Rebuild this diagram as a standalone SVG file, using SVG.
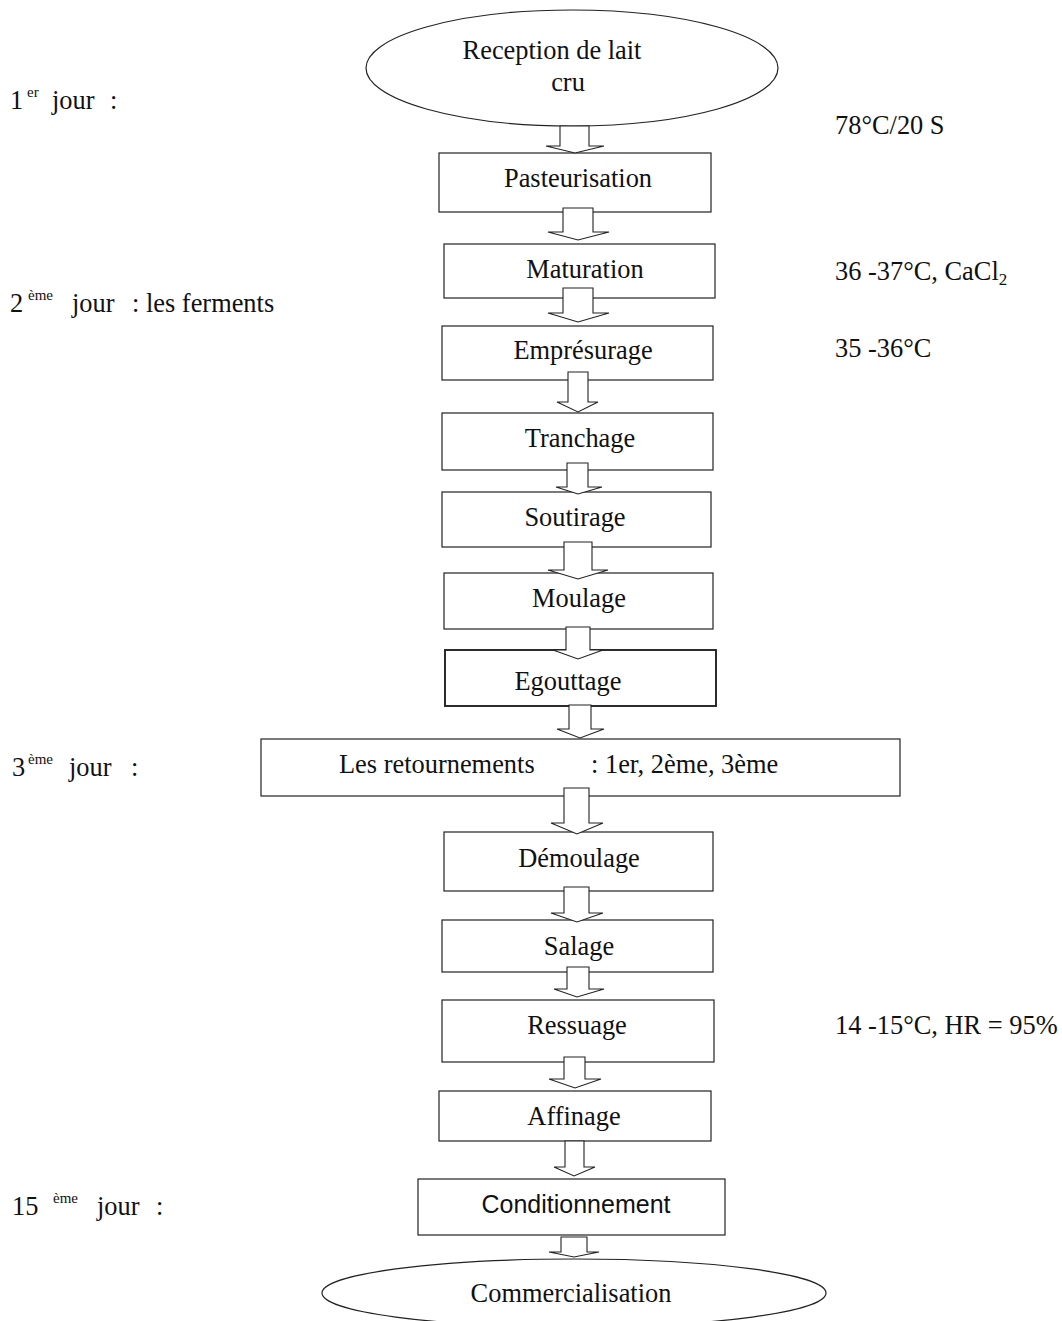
<svg xmlns="http://www.w3.org/2000/svg" width="1062" height="1321" viewBox="0 0 1062 1321">
<style>
.shape{fill:#fff;stroke:#222;stroke-width:1.2}
.thick{stroke-width:1.9}
.arrow{fill:#fff;stroke:#222;stroke-width:1.1;stroke-linejoin:miter}
text{font-family:"Liberation Serif","Times New Roman",serif;font-size:26.4px;fill:#111}
.c{text-anchor:middle}
.sup{font-size:15px}
.sub{font-size:17px}
.sans{font-family:"Liberation Sans",Arial,sans-serif;font-size:25px}
</style>
<rect width="1062" height="1321" fill="#fff"/>

<g id="labels">
  <text x="10" y="109">1<tspan class="sup" x="27" y="97">er</tspan><tspan x="52" y="109">jour</tspan><tspan x="110" y="109">:</tspan></text>
  <text x="10" y="312">2<tspan class="sup" x="28" y="300">ème</tspan><tspan x="72" y="312">jour</tspan><tspan x="132" y="312">: les ferments</tspan></text>
  <text x="12" y="776">3<tspan class="sup" x="28" y="764">ème</tspan><tspan x="69" y="776">jour</tspan><tspan x="131" y="776">:</tspan></text>
  <text x="12" y="1215">15<tspan class="sup" x="53" y="1203">ème</tspan><tspan x="97" y="1215">jour</tspan><tspan x="156" y="1215">:</tspan></text>
  <text x="835" y="134">78°C/20 S</text>
  <text x="835" y="280">36 -37°C, CaCl<tspan class="sub" y="285">2</tspan></text>
  <text x="835" y="357">35 -36°C</text>
  <text x="835" y="1034">14 -15°C, HR = 95%</text>
</g>

<g id="n-reception">
  <ellipse class="shape" cx="572" cy="68" rx="206" ry="58"/>
  <text class="c" x="552" y="59">Reception de lait</text>
  <text class="c" x="568" y="91">cru</text>
</g>
<g id="n-pasteurisation">
  <rect class="shape" x="439" y="153" width="272" height="59"/>
  <text class="c" x="578" y="187">Pasteurisation</text>
</g>
<g id="n-maturation">
  <rect class="shape" x="444" y="244" width="271" height="54"/>
  <text class="c" x="585" y="278">Maturation</text>
</g>
<g id="n-empresurage">
  <rect class="shape" x="442" y="326" width="271" height="54"/>
  <text class="c" x="583" y="359">Emprésurage</text>
</g>
<g id="n-tranchage">
  <rect class="shape" x="442" y="413" width="271" height="57"/>
  <text class="c" x="580" y="447">Tranchage</text>
</g>
<g id="n-soutirage">
  <rect class="shape" x="442" y="492" width="269" height="55"/>
  <text class="c" x="575" y="526">Soutirage</text>
</g>
<g id="n-moulage">
  <rect class="shape" x="444" y="573" width="269" height="56"/>
  <text class="c" x="579" y="607">Moulage</text>
</g>
<g id="n-egouttage">
  <rect class="shape thick" x="445" y="650" width="271" height="56"/>
  <text class="c" x="568" y="690">Egouttage</text>
</g>
<g id="n-retournements">
  <rect class="shape" x="261" y="739" width="639" height="57"/>
  <text x="339" y="773">Les retournements<tspan x="591">: 1er, 2ème, 3ème</tspan></text>
</g>
<g id="n-demoulage">
  <rect class="shape" x="444" y="832" width="269" height="59"/>
  <text class="c" x="579" y="867">Démoulage</text>
</g>
<g id="n-salage">
  <rect class="shape" x="442" y="920" width="271" height="52"/>
  <text class="c" x="579" y="955">Salage</text>
</g>
<g id="n-ressuage">
  <rect class="shape" x="442" y="1000" width="272" height="62"/>
  <text class="c" x="577" y="1034">Ressuage</text>
</g>
<g id="n-affinage">
  <rect class="shape" x="439" y="1091" width="272" height="50"/>
  <text class="c" x="574" y="1125">Affinage</text>
</g>
<g id="n-conditionnement">
  <rect class="shape" x="418" y="1179" width="307" height="56"/>
  <text class="c sans" x="576" y="1213">Conditionnement</text>
</g>
<g id="n-commercialisation">
  <ellipse class="shape" cx="574" cy="1293" rx="252" ry="34"/>
  <text class="c" x="571" y="1302">Commercialisation</text>
</g>

<g id="connectors">
  <path class="arrow" d="M560,126 H589 V146 H604 L575,153 L546,146 H560 Z"/>
  <path class="arrow" d="M563,208 H593 V232 H609 L578,240 L548,232 H563 Z"/>
  <path class="arrow" d="M563,288 H593 V313 H609 L578,322 L548,313 H563 Z"/>
  <path class="arrow" d="M568,372 H588 V402 H598 L578,412 L557,402 H568 Z"/>
  <path class="arrow" d="M567,463 H588 V487 H602 L578,494 L556,487 H567 Z"/>
  <path class="arrow" d="M564,542 H592 V570 H608 L578,579 L548,570 H564 Z"/>
  <path class="arrow" d="M566,627 H590 V650 H603 L578,659 L553,650 H566 Z"/>
  <path class="arrow" d="M569,705 H591 V729 H604 L580,738 L557,729 H569 Z"/>
  <path class="arrow" d="M564,788 H589 V823 H603 L577,834 L551,823 H564 Z"/>
  <path class="arrow" d="M564,887 H589 V913 H603 L577,922 L551,913 H564 Z"/>
  <path class="arrow" d="M567,967 H589 V989 H604 L577,997 L554,989 H567 Z"/>
  <path class="arrow" d="M564,1057 H585 V1079 H601 L575,1088 L549,1079 H564 Z"/>
  <path class="arrow" d="M565,1141 H584 V1167 H595 L574,1176 L554,1167 H565 Z"/>
  <path class="arrow" d="M561,1237 H587 V1252 H599 L574,1257 L549,1252 H561 Z"/>
</g>
</svg>
